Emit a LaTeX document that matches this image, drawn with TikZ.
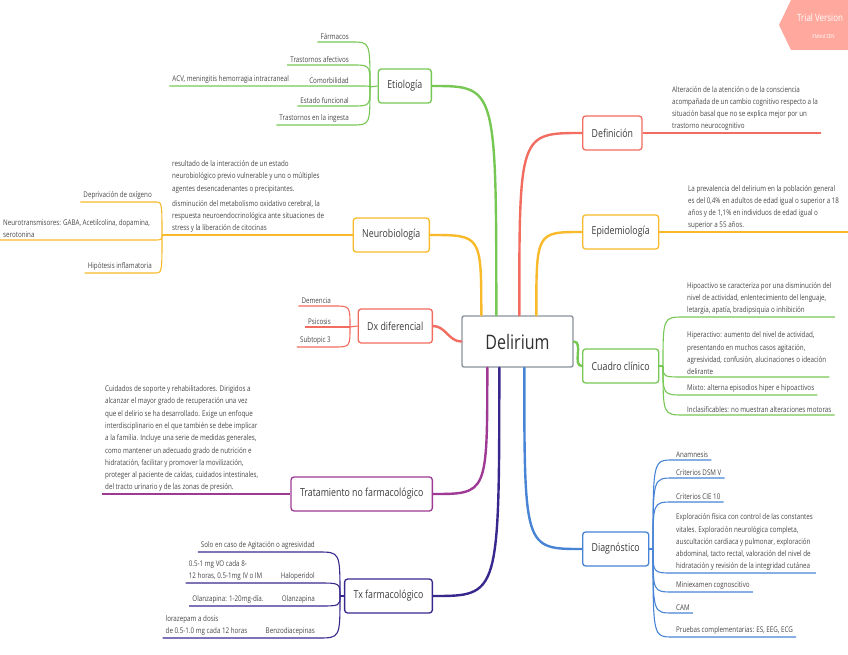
\documentclass[tikz,border=0pt]{standalone}
\usepackage{fontspec}
\setmainfont{Open Sans}[FakeStretch=0.8]
\usetikzlibrary{
    positioning,
    calc
}
\definecolor{xgreen}{RGB}{118,199,84}
\definecolor{xorange}{RGB}{248,186,42}
\definecolor{xred}{RGB}{242,108,96}
\definecolor{xpurple}{RGB}{158,58,148}
\definecolor{xindigo}{RGB}{56,40,142}
\definecolor{xblue}{RGB}{72,132,214}
\definecolor{xgray}{RGB}{138,146,156}
\definecolor{xtext}{RGB}{70,70,70}
\definecolor{xmark}{RGB}{255,168,158}
\tikzstyle{central} = [
    rectangle,
    rounded corners=2pt,
    draw=xgray,
    line width=1.4pt,
    fill=white,
    minimum width=111pt,
    minimum height=51pt,
    text=xtext!70!black,
    font=\fontsize{20}{24}\selectfont
]
\tikzstyle{topic} = [
    rectangle,
    rounded corners=3pt,
    line width=1.3pt,
    fill=white,
    minimum height=34pt,
    inner xsep=9pt,
    text=xtext!85!black,
    font=\fontsize{11}{13}\selectfont
]
\tikzstyle{leaf} = [
    inner xsep=3pt,
    inner ysep=2pt,
    align=left,
    text=xtext,
    font=\fontsize{7.8}{12.3}\selectfont
]
\tikzstyle{branch} = [
    line width=2.4pt,
    line cap=round
]
\tikzstyle{twig} = [
    line width=1.1pt
]

\begin{document}
\begin{tikzpicture}[x=1pt, y=-1pt]
    \useasboundingbox (0,0) rectangle (848,655);

    % Central topic
    \node[central] (delirium) at (517.5,341.5) {Delirium};

    % Main topics, left
    \node[topic, draw=xgreen, anchor=east] (etiologia) at (432,86) {Etiología};
    \node[topic, draw=xorange, anchor=east] (neurobio) at (430,235) {Neurobiología};
    \node[topic, draw=xred, anchor=east] (dxdif) at (433,326) {Dx diferencial};
    \node[topic, draw=xpurple, anchor=east] (tratnf) at (433,494) {Tratamiento no farmacológico};
    \node[topic, draw=xindigo, anchor=east] (txfarm) at (433,596) {Tx farmacológico};

    % Main topics, right
    \node[topic, draw=xred, anchor=west] (definicion) at (582,133) {Definición};
    \node[topic, draw=xorange, anchor=west] (epidem) at (582,232) {Epidemiología};
    \node[topic, draw=xgreen, anchor=west] (cuadro) at (582,366) {Cuadro clínico};
    \node[topic, draw=xblue, anchor=west] (diagn) at (582,549) {Diagnóstico};

    % Branches from the centre
    \coordinate (sNb) at ([xshift=20pt]delirium.north west);
    \coordinate (sEt) at ([xshift=35pt]delirium.north west);
    \coordinate (sDe) at ([xshift=58pt]delirium.north west);
    \coordinate (sEp) at ([xshift=75pt]delirium.north west);
    \coordinate (sTr) at ([xshift=26pt]delirium.south west);
    \coordinate (sTx) at ([xshift=38pt]delirium.south west);
    \coordinate (sDg) at ([xshift=63pt]delirium.south west);
    \draw[branch, xorange] (sNb) .. controls (sNb |- neurobio.east) .. (neurobio.east);
    \draw[branch, xgreen] (sEt) .. controls (sEt |- etiologia.east) .. (etiologia.east);
    \draw[branch, xred] (sDe) .. controls (sDe |- definicion.west) .. (definicion.west);
    \draw[branch, xorange] (sEp) .. controls (sEp |- epidem.west) .. (epidem.west);
    \draw[branch, xpurple] (sTr) .. controls (sTr |- tratnf.east) .. (tratnf.east);
    \draw[branch, xindigo] (sTx) .. controls (sTx |- txfarm.east) .. (txfarm.east);
    \draw[branch, xblue] (sDg) .. controls (sDg |- diagn.west) .. (diagn.west);
    \draw[branch, xred] (delirium.west) to[out=180, in=0] (dxdif.east);
    \draw[branch, xgreen] (delirium.east) to[out=0, in=180] (cuadro.west);

    % Etiologia
    \coordinate (etfork) at (370,87);
    \node[leaf, anchor=south east] (farmacos) at (352,42) {Fármacos};
    \node[leaf, anchor=south east] (tafect) at (352,65) {Trastornos afectivos};
    \node[leaf, anchor=south east] (comorb) at (352,86) {Comorbilidad};
    \node[leaf, anchor=south east] (acv) at ([xshift=-14pt]comorb.south west) {ACV, meningitis hemorragia intracraneal};
    \node[leaf, anchor=south east] (estfunc) at (352,106) {Estado funcional};
    \node[leaf, anchor=south east] (tingesta) at (352,125) {Trastornos en la ingesta};
    \draw[twig, xgreen] (etiologia.west) -- (etfork);
    \draw[twig, xgreen] (etfork) .. controls (etfork |- farmacos.south east) .. (farmacos.south east) -- (farmacos.south west);
    \draw[twig, xgreen] (etfork) .. controls (etfork |- tafect.south east) .. (tafect.south east) -- (tafect.south west);
    \draw[twig, xgreen] (etfork) .. controls (etfork |- comorb.south east) .. (comorb.south east) -- (acv.south west);
    \draw[twig, xgreen] (etfork) .. controls (etfork |- estfunc.south east) .. (estfunc.south east) -- (estfunc.south west);
    \draw[twig, xgreen] (etfork) .. controls (etfork |- tingesta.south east) .. (tingesta.south east) -- (tingesta.south west);

    % Neurobiologia
    \coordinate (nbfork) at (162,235);
    \node[leaf, anchor=south west] (nbtext) at (169,235) {resultado de la interacción de un estado\\neurobiológico previo vulnerable y uno o múltiples\\agentes desencadenantes o precipitantes.\\[3pt]disminución del metabolismo oxidativo cerebral, la\\respuesta neuroendocrinológica ante situaciones de\\stress y la liberación de citocinas};
    \node[leaf, anchor=south east] (depriv) at (155,202) {Deprivación de oxígeno};
    \node[leaf, anchor=south west] (neurotx) at (0,240) {Neurotransmisores: GABA, Acetilcolina, dopamina,\\serotonina};
    \node[leaf, anchor=south east] (hipinf) at (155,273) {Hipótesis inflamatoria};
    \draw[twig, xorange] (neurobio.west) -- (nbfork);
    \draw[twig, xorange] (nbfork) .. controls (nbfork |- depriv.south east) .. (depriv.south east) -- (depriv.south west);
    \draw[twig, xorange] (nbfork) .. controls (nbfork |- neurotx.south east) .. (neurotx.south east) -- (neurotx.south west);
    \draw[twig, xorange] (nbfork) .. controls (nbfork |- hipinf.south east) .. (hipinf.south east) -- (hipinf.south west);

    % Dx diferencial
    \coordinate (dxfork) at (350,327);
    \node[leaf, anchor=south east] (demencia) at (334,306) {Demencia};
    \node[leaf, anchor=south east] (psicosis) at (334,327) {Psicosis};
    \node[leaf, anchor=south east] (subtop) at (334,347) {Subtopic 3};
    \draw[twig, xred] (dxdif.west) -- (dxfork);
    \draw[twig, xred] (dxfork) .. controls (dxfork |- demencia.south east) .. (demencia.south east) -- (demencia.south west);
    \draw[twig, xred] (dxfork) -- (psicosis.south west);
    \draw[twig, xred] (dxfork) .. controls (dxfork |- subtop.south east) .. (subtop.south east) -- (subtop.south west);

    % Tratamiento no farmacologico
    \node[leaf, anchor=south west] (trtext) at (102,494) {Cuidados de soporte y rehabilitadores. Dirigidos a\\alcanzar el mayor grado de recuperación una vez\\que el delirio se ha desarrollado. Exige un enfoque\\interdisciplinario en el que también se debe implicar\\a la familia. Incluye una serie de medidas generales,\\como mantener un adecuado grado de nutrición e\\hidratación, facilitar y promover la movilización,\\proteger al paciente de caídas, cuidados intestinales,\\del tracto urinario y de las zonas de presión.};
    \draw[twig, xpurple] (tratnf.west) -- (trtext.south west);

    % Tx farmacologico
    \coordinate (txfork) at (340,596);
    \node[leaf, anchor=south east] (solo) at (318,552) {Solo en caso de Agitación o agresividad};
    \node[leaf, anchor=south east] (halo) at (318,583) {Haloperidol};
    \node[leaf, anchor=south east] (halosub) at ([xshift=-12pt]halo.south west) {0.5-1 mg VO cada 8-\\12 horas, 0.5-1mg IV o IM};
    \node[leaf, anchor=south east] (olanz) at (318,606) {Olanzapina};
    \node[leaf, anchor=south east] (olanzsub) at ([xshift=-12pt]olanz.south west) {Olanzapina: 1-20mg-día.};
    \node[leaf, anchor=south east] (benzo) at (318,638) {Benzodiacepinas};
    \node[leaf, anchor=south east] (benzosub) at ([xshift=-12pt]benzo.south west) {lorazepam a dosis\\de 0.5-1.0 mg cada 12 horas};
    \draw[twig, xindigo] (txfarm.west) -- (txfork);
    \draw[twig, xindigo] (txfork) .. controls (txfork |- solo.south east) .. (solo.south east) -- (solo.south west);
    \draw[twig, xindigo] (txfork) .. controls (txfork |- halo.south east) .. (halo.south east) -- (halosub.south west);
    \draw[twig, xindigo] (txfork) .. controls (txfork |- olanz.south east) .. (olanz.south east) -- (olanzsub.south west);
    \draw[twig, xindigo] (txfork) .. controls (txfork |- benzo.south east) .. (benzo.south east) -- (benzosub.south west);

    % Definicion
    \node[leaf, anchor=south west] (deftext) at (669,133) {Alteración de la atención o de la consciencia\\acompañada de un cambio cognitivo respecto a la\\situación basal que no se explica mejor por un\\trastorno neurocognitivo};
    \draw[twig, xred] (definicion.east) -- (deftext.south east);

    % Epidemiologia
    \node[leaf, anchor=south west] (epitext) at (685,232) {La prevalencia del delirium en la población general\\es del 0,4\% en adultos de edad igual o superior a 18\\años y de 1,1\% en individuos de edad igual o\\superior a 55 años.};
    \draw[twig, xorange] (epidem.east) -- ([xshift=6pt]epitext.south east);

    % Cuadro clinico
    \coordinate (cfork) at (663,366);
    \node[leaf, anchor=south west] (hipo) at (684,317) {Hipoactivo se caracteriza por una disminución del\\nivel de actividad, enlentecimiento del lenguaje,\\letargia, apatía, bradipsiquia o inhibición};
    \node[leaf, anchor=south west] (hiper) at (684,377) {Hiperactivo: aumento del nivel de actividad,\\presentando en muchos casos agitación,\\agresividad, confusión, alucinaciones o ideación\\delirante};
    \node[leaf, anchor=south west] (mixto) at (684,395) {Mixto: alterna episodios hiper e hipoactivos};
    \node[leaf, anchor=south west] (inclas) at (684,415) {Inclasificables: no muestran alteraciones motoras};
    \draw[twig, xgreen] (cuadro.east) -- (cfork);
    \draw[twig, xgreen] (cfork) .. controls (cfork |- hipo.south west) .. (hipo.south west) -- (hipo.south east);
    \draw[twig, xgreen] (cfork) .. controls (cfork |- hiper.south west) .. (hiper.south west) -- (hiper.south east);
    \draw[twig, xgreen] (cfork) .. controls (cfork |- mixto.south west) .. (mixto.south west) -- (mixto.south east);
    \draw[twig, xgreen] (cfork) .. controls (cfork |- inclas.south west) .. (inclas.south west) -- (inclas.south east);

    % Diagnostico
    \coordinate (dfork) at (653,549);
    \node[leaf, anchor=south west] (anamn) at (673,460) {Anamnesis};
    \node[leaf, anchor=south west] (dsm) at (673,478) {Criterios DSM V};
    \node[leaf, anchor=south west] (cie) at (673,502) {Criterios CIE 10};
    \node[leaf, anchor=south west] (explor) at (673,573) {Exploración física con control de las constantes\\vitales. Exploración neurológica completa,\\auscultación cardiaca y pulmonar, exploración\\abdominal, tacto rectal, valoración del nivel de\\hidratación y revisión de la integridad cutánea};
    \node[leaf, anchor=south west] (minie) at (673,592) {Miniexamen cognoscitivo};
    \node[leaf, anchor=south west] (cam) at (673,613) {CAM};
    \node[leaf, anchor=south west] (pruebas) at (673,637) {Pruebas complementarias: ES, EEG, ECG};
    \draw[twig, xblue] (diagn.east) -- (dfork);
    \draw[twig, xblue] (dfork) .. controls (dfork |- anamn.south west) .. (anamn.south west) -- (anamn.south east);
    \draw[twig, xblue] (dfork) .. controls (dfork |- dsm.south west) .. (dsm.south west) -- (dsm.south east);
    \draw[twig, xblue] (dfork) .. controls (dfork |- cie.south west) .. (cie.south west) -- (cie.south east);
    \draw[twig, xblue] (dfork) .. controls (dfork |- explor.south west) .. (explor.south west) -- (explor.south east);
    \draw[twig, xblue] (dfork) .. controls (dfork |- minie.south west) .. (minie.south west) -- (minie.south east);
    \draw[twig, xblue] (dfork) .. controls (dfork |- cam.south west) .. (cam.south west) -- (cam.south east);
    \draw[twig, xblue] (dfork) .. controls (dfork |- pruebas.south west) .. (pruebas.south west) -- (pruebas.south east);

    % Trial mark in the corner
    \begin{scope}
        \clip (0,0) rectangle (848,655);
        \fill[xmark] (779,25) -- (791,0) -- (860,0) -- (860,50) -- (791,50) -- cycle;
        \node[anchor=west, inner sep=0pt, text=white, font=\fontsize{10}{12}\selectfont] (trial) at (797,18) {Trial Version};
        \node[anchor=west, inner sep=0pt, text=white, font=\fontsize{5.5}{7}\selectfont] (xmind) at (812,36) {XMind ZEN};
    \end{scope}
\end{tikzpicture}
\end{document}
